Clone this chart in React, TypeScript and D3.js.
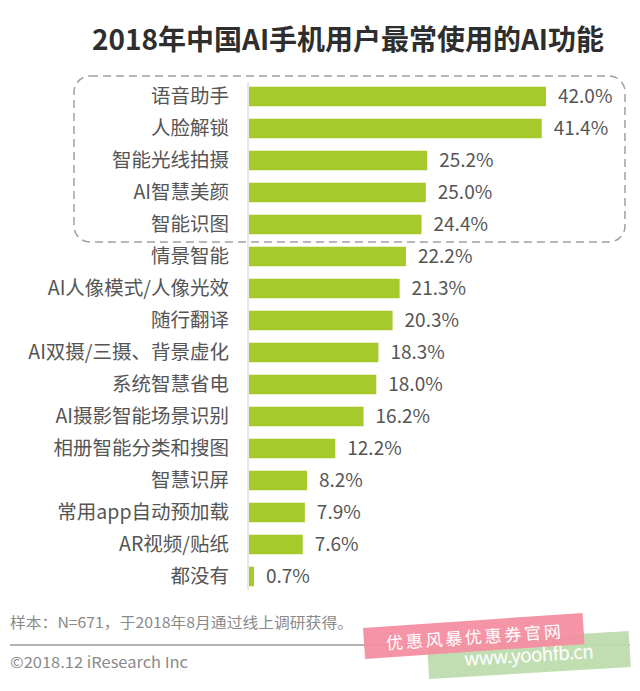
import React from "react";
import * as d3 from "d3";

const categories = [
  "语音助手",
  "人脸解锁",
  "智能光线拍摄",
  "AI智慧美颜",
  "智能识图",
  "情景智能",
  "AI人像模式/人像光效",
  "随行翻译",
  "AI双摄/三摄、背景虚化",
  "系统智慧省电",
  "AI摄影智能场景识别",
  "相册智能分类和搜图",
  "智慧识屏",
  "常用app自动预加载",
  "AR视频/贴纸",
  "都没有",
];
const values = [42.0, 41.4, 25.2, 25.0, 24.4, 22.2, 21.3, 20.3, 18.3, 18.0, 16.2, 12.2, 8.2, 7.9, 7.6, 0.7];

const title = "2018年中国AI手机用户最常使用的AI功能";
const sourceNote = "样本：N=671，于2018年8月通过线上调研获得。";
const copyright = "©2018.12 iResearch Inc";
const watermarkCn = "优惠风暴优惠券官网";
const watermarkUrl = "www.yoohfb.cn";

const FONT = '"Noto Sans CJK SC", "Noto Sans", sans-serif';

export default function App() {
  const W = 640;
  const H = 691;
  const x = d3.scaleLinear().domain([0, 42]).range([249, 546]);
  const y = d3
    .scaleBand<string>()
    .domain(categories)
    .range([80.5, 80.5 + 16 * 32])
    .paddingInner(0.39)
    .paddingOuter(0.195);

  const boxTop = 76;
  const boxBottom = 242;

  return (
    <svg
      width={W}
      height={H}
      style={{ position: "absolute", left: 0, top: 0, background: "#fff" }}
      fontFamily={FONT}
    >
      <rect x={0} y={0} width={W} height={H} fill="#fff" />
      <text
        x={348}
        y={50}
        textAnchor="middle"
        fontSize={28}
        fontWeight="bold"
        fill="#2e2e2e"
        textLength={512}
        lengthAdjust="spacingAndGlyphs"
      >
        {title}
      </text>

      {/* axis line */}
      <line x1={248} x2={248} y1={82} y2={590} stroke="#d0d0d0" strokeWidth={1} />

      {/* highlight box */}
      <rect
        x={74}
        y={boxTop}
        width={625 - 74}
        height={boxBottom - boxTop}
        rx={16}
        ry={16}
        fill="none"
        stroke="#a0a0a0"
        strokeWidth={1.5}
        strokeDasharray="8 5"
      />

      {categories.map((c, i) => {
        const yy = y(c)!;
        const bw = y.bandwidth();
        const cy = yy + bw / 2;
        return (
          <g key={c}>
            <rect x={x(0)} y={yy} width={x(values[i]) - x(0)} height={bw} fill="#a6ca2c" />
            <text
              x={229}
              y={cy}
              dy="0.35em"
              textAnchor="end"
              fontSize={19.5}
              fill="#555"
            >
              {c}
            </text>
            <text x={x(values[i]) + 12} y={cy} dy="0.36em" fontSize={19} fill="#555">
              {values[i].toFixed(1) + "%"}
            </text>
          </g>
        );
      })}

      {/* footer */}
      <text
        x={10}
        y={628}
        fontSize={15}
        fill="#8a8a8a"
        textLength={343}
        lengthAdjust="spacingAndGlyphs"
      >
        {sourceNote}
      </text>
      <line x1={10} x2={630} y1={645} y2={645} stroke="#9a9a9a" strokeWidth={1.5} />
      <text
        x={10}
        y={668}
        fontSize={15}
        fill="#8a8a8a"
        textLength={178}
        lengthAdjust="spacingAndGlyphs"
      >
        {copyright}
      </text>

      {/* watermark */}
      <g transform="translate(427,643) rotate(-3.4)">
        <rect x={0} y={0} width={202} height={36} fill="#bedcae" opacity={0.95} />
        <text
          x={36}
          y={25}
          fontSize={19}
          fill="#fff"
          textLength={130}
          lengthAdjust="spacing"
        >
          {watermarkUrl}
        </text>
      </g>
      <g transform="translate(363,628) rotate(-3.9)">
        <rect x={0} y={0} width={220} height={31} fill="#f48ea2" opacity={0.95} />
        <text
          x={22}
          y={23}
          fontSize={17}
          fill="#fff"
          textLength={175}
          lengthAdjust="spacing"
        >
          {watermarkCn}
        </text>
      </g>
    </svg>
  );
}
